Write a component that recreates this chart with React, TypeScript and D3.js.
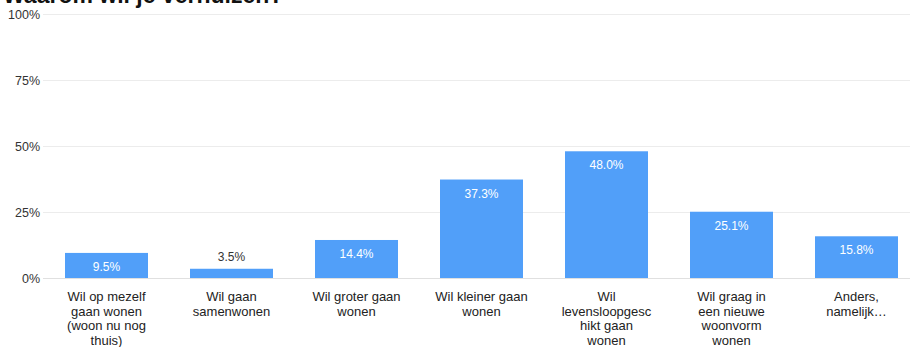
import React from "react";
import * as d3 from "d3";

const title = "Waarom wil je verhuizen?";
const categories = [
  "Wil op mezelf gaan wonen (woon nu nog thuis)",
  "Wil gaan samenwonen",
  "Wil groter gaan wonen",
  "Wil kleiner gaan wonen",
  "Wil levensloopgeschikt gaan wonen",
  "Wil graag in een nieuwe woonvorm wonen",
  "Anders, namelijk...",
];
const tickLabelLines = [
  ["Wil op mezelf", "gaan wonen", "(woon nu nog", "thuis)"],
  ["Wil gaan", "samenwonen"],
  ["Wil groter gaan", "wonen"],
  ["Wil kleiner gaan", "wonen"],
  ["Wil", "levensloopgesc", "hikt gaan", "wonen"],
  ["Wil graag in", "een nieuwe", "woonvorm", "wonen"],
  ["Anders,", "namelijk\u2026"],
];
const values = [9.5, 3.5, 14.4, 37.3, 48.0, 25.1, 15.8];
const yTicks = [0, 25, 50, 75, 100];

const W = 910;
const H = 347;
const margin = { top: 14, bottom: 69, left: 44, right: -9 };
const BAR = "#519ff9";
const FONT = "Arial, 'Liberation Sans', Helvetica, sans-serif";

export default function App() {
  const x = d3
    .scaleBand<string>()
    .domain(categories)
    .range([margin.left, W - margin.right])
    .paddingInner(0.336)
    .paddingOuter(0.168);
  const y = d3.scaleLinear().domain([0, 100]).range([H - margin.bottom, margin.top]);
  const bw = x.bandwidth();

  return (
    <svg
      width={W}
      height={H}
      style={{ position: "absolute", left: 0, top: 0, background: "#fff" }}
      fontFamily={FONT}
    >
      <text x={3} y={3} fontSize={23} fontWeight="bold" fill="#111">
        {title}
      </text>
      {yTicks.map((t) => (
        <g key={t}>
          <line
            x1={43}
            x2={W}
            y1={Math.round(y(t)) + 0.5}
            y2={Math.round(y(t)) + 0.5}
            stroke={t === 0 ? "#e0e0e0" : "#ececec"}
            strokeWidth={1}
          />
          <text
            x={40}
            y={y(t) + 4.5}
            textAnchor="end"
            fontSize={12.5}
            fill="#333"
          >
            {t}%
          </text>
        </g>
      ))}
      {categories.map((c, i) => {
        const v = values[i];
        const x0 = x(c)!;
        const top = y(v);
        const h = y(0) - top;
        const inside = h > 20;
        return (
          <g key={c}>
            <rect x={x0} y={top} width={bw} height={h} fill={BAR} />
            <text
              x={x0 + bw / 2}
              y={inside ? top + 18 : top - 8}
              textAnchor="middle"
              fontSize={12}
              fill={inside ? "#fff" : "#333"}
            >
              {v.toFixed(1)}%
            </text>
            <text textAnchor="middle" fontSize={13} fill="#222">
              {tickLabelLines[i].map((ln, j) => (
                <tspan key={j} x={x0 + bw / 2} y={y(0) + 23 + j * 14.5}>
                  {ln}
                </tspan>
              ))}
            </text>
          </g>
        );
      })}
    </svg>
  );
}
